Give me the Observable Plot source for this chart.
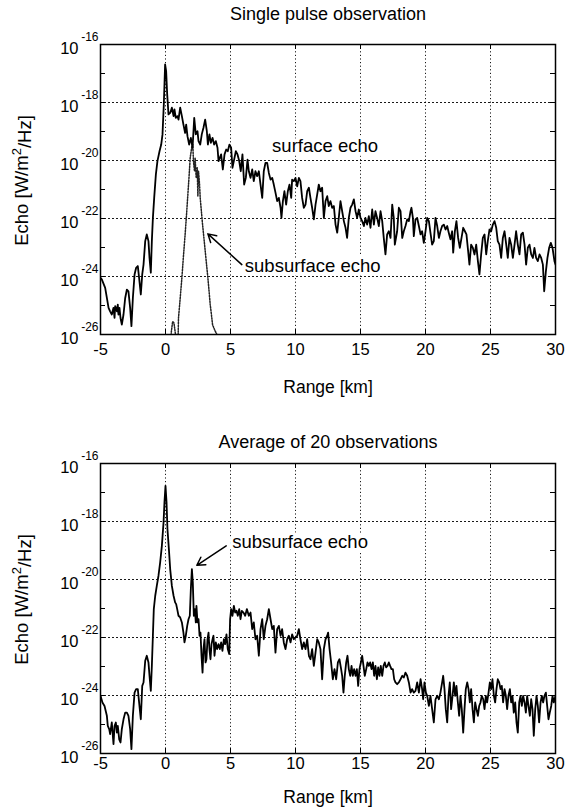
<!DOCTYPE html>
<html>
<head>
<meta charset="utf-8">
<script src="https://cdn.jsdelivr.net/npm/d3@7"></script>
<script src="https://cdn.jsdelivr.net/npm/@observablehq/plot@0.6"></script>
<style>
  html, body { margin: 0; padding: 0; background: #fff; }
  #chart svg { display: block; background: #fff; }
</style>
</head>
<body>
<div id="chart"></div>
<script>
// ---------- axis / tick values ----------
const xTicks = [-5, 0, 5, 10, 15, 20, 25, 30];
const xGrid = [0, 5, 10, 15, 20, 25];
const yLabelExps = [-16, -18, -20, -22, -24, -26];
const yGridExps = [-18, -20, -22, -24];
const yDecadeExps = [-17, -18, -19, -20, -21, -22, -23, -24, -25];

// ---------- texts ----------
const topTitle = "Single pulse observation";
const bottomTitle = "Average of 20 observations";
const xLabel = "Range [km]";
const yLabel = "Echo [W/m²/Hz]";

// ---------- annotations (range km, log10 echo) ----------
const topLabels = [
  {text: "surface echo", x: 8.2, e: -19.5},
  {text: "subsurface echo", x: 6.1, e: -23.64}
];
const topArrow = [{x1: 5.87, e1: -23.59, x2: 3.26, e2: -22.53}];
const bottomLabels = [
  {text: "subsurface echo", x: 5.13, e: -18.70}
];
const bottomArrow = [{x1: 4.67, e1: -18.84, x2: 2.41, e2: -19.51}];

// ---------- series: [range km, log10(echo W/m^2/Hz)] ----------
const singleSurface = [
[-5.00,-24.05],[-4.90,-24.10],[-4.64,-24.39],[-4.51,-24.74],[-4.38,-25.08],[-4.26,-25.20],[-4.13,-25.31],[-4.00,-25.08],[-3.92,-25.43],[-3.87,-25.02],[-3.74,-25.20],[-3.67,-24.97],[-3.62,-25.31],[-3.54,-25.08],[-3.46,-25.43],[-3.36,-25.66],[-3.23,-25.31],[-3.10,-24.74],[-2.97,-24.45],[-2.85,-24.51],[-2.72,-25.08],[-2.62,-25.71],[-2.51,-24.74],[-2.38,-23.93],[-2.26,-23.70],[-2.13,-23.64],[-2.03,-24.05],[-1.90,-24.62],[-1.79,-23.93],[-1.69,-23.59],[-1.56,-22.78],[-1.44,-22.55],[-1.31,-22.78],[-1.23,-23.36],[-1.13,-23.87],[-1.05,-22.78],[-0.97,-21.98],[-0.87,-21.29],[-0.74,-20.48],[-0.62,-20.02],[-0.46,-19.68],[-0.33,-19.45],[-0.23,-19.10],[-0.13,-18.07],[-0.03,-16.69],[0.05,-16.92],[0.13,-17.72],[0.23,-18.41],[0.36,-18.36],[0.49,-18.18],[0.62,-18.47],[0.69,-18.24],[0.79,-18.53],[0.92,-18.47],[1.00,-18.59],[1.13,-18.18],[1.26,-18.47],[1.38,-18.76],[1.51,-19.05],[1.59,-18.76],[1.69,-19.16],[1.82,-19.45],[1.95,-19.22],[2.08,-19.56],[2.21,-18.53],[2.33,-19.10],[2.46,-18.99],[2.54,-19.33],[2.67,-19.45],[2.79,-19.10],[2.92,-18.87],[3.05,-18.59],[3.18,-18.99],[3.26,-19.45],[3.38,-19.10],[3.49,-19.39],[3.62,-19.22],[3.74,-19.45],[3.87,-19.33],[4.00,-19.56],[4.08,-20.02],[4.18,-19.91],[4.28,-19.79],[4.41,-20.31],[4.54,-19.79],[4.67,-19.62],[4.79,-19.68],[4.92,-19.45],[5.05,-19.56],[5.15,-20.25],[5.28,-19.97],[5.41,-19.68],[5.54,-19.79],[5.67,-20.02],[5.79,-20.37],[5.92,-19.79],[6.05,-20.83],[6.18,-20.60],[6.31,-19.97],
[6.41,-20.37],[6.54,-20.60],[6.67,-20.31],[6.79,-20.71],[6.92,-20.37],[7.05,-20.54],[7.18,-20.37],[7.31,-20.83],[7.44,-21.29],[7.56,-20.37],[7.69,-20.08],[7.82,-20.08],[7.95,-20.43],[8.08,-20.66],[8.21,-20.60],[8.33,-20.83],[8.46,-21.11],[8.59,-21.40],[8.72,-21.29],[8.85,-21.63],[8.92,-21.98],[9.03,-21.40],[9.15,-21.06],[9.28,-21.52],[9.41,-21.06],[9.54,-20.83],[9.67,-21.29],[9.74,-20.66],[9.87,-20.71],[10.00,-20.60],[10.13,-20.89],[10.26,-20.60],[10.38,-20.71],[10.51,-21.29],[10.64,-21.63],[10.77,-21.52],[10.90,-21.06],[11.03,-20.94],[11.15,-21.29],[11.28,-21.63],[11.41,-22.03],[11.54,-21.52],[11.67,-21.17],[11.79,-20.83],[11.92,-21.06],[12.05,-20.94],[12.18,-21.98],[12.31,-21.40],[12.44,-21.23],[12.56,-21.57],[12.69,-21.40],[12.82,-21.63],[12.95,-21.57],[13.08,-22.21],[13.21,-22.49],[13.33,-21.98],[13.46,-21.40],[13.59,-21.75],[13.72,-22.09],[13.85,-22.32],[13.97,-22.67],[14.10,-21.98],[14.23,-21.63],[14.36,-21.52],[14.49,-21.34],[14.62,-21.75],[14.74,-21.98],[14.87,-21.69],[15.00,-21.98],[15.13,-22.09],[15.26,-22.26],[15.38,-21.98],[15.51,-22.21],[15.64,-21.92],[15.77,-22.32],[15.90,-21.69],[16.03,-22.21],[16.15,-21.75],[16.28,-21.98],[16.41,-22.26],[16.54,-21.75],[16.67,-22.09],[16.79,-22.67],[16.92,-23.24],[17.05,-22.55],[17.18,-22.44],[17.31,-22.67],[17.44,-21.52],[17.56,-21.98],[17.64,-22.90],[17.82,-22.44],[17.95,-21.63],[18.08,-21.75],[18.21,-22.67],
[18.33,-22.44],[18.46,-22.26],[18.59,-22.03],[18.72,-22.09],[18.85,-21.75],[18.92,-21.63],[19.03,-21.98],[19.10,-22.61],[19.23,-22.03],[19.36,-21.98],[19.49,-22.26],[19.62,-22.55],[19.74,-22.44],[19.87,-22.84],[20.00,-22.44],[20.13,-21.98],[20.26,-22.09],[20.38,-22.49],[20.51,-22.90],[20.64,-22.78],[20.77,-21.98],[20.90,-22.26],[21.03,-22.67],[21.15,-22.44],[21.28,-22.26],[21.41,-22.21],[21.54,-22.38],[21.67,-22.26],[21.79,-22.49],[21.92,-22.72],[22.05,-22.44],[22.13,-23.18],[22.26,-22.44],[22.38,-22.09],[22.51,-22.67],[22.64,-23.01],[22.77,-22.67],[22.90,-22.32],[23.03,-22.44],[23.15,-22.55],[23.28,-23.13],[23.38,-23.59],[23.51,-22.90],[23.64,-23.01],[23.77,-23.24],[23.90,-22.90],[24.03,-23.47],[24.15,-23.93],[24.28,-23.24],[24.41,-22.67],[24.54,-22.55],[24.67,-23.24],[24.79,-22.78],[24.92,-22.38],[25.05,-22.44],[25.18,-22.21],[25.31,-22.09],[25.44,-22.32],[25.56,-22.78],[25.69,-22.90],[25.82,-23.36],[25.95,-22.67],[26.08,-22.44],[26.21,-22.90],[26.33,-23.36],[26.46,-22.67],[26.59,-22.90],[26.72,-23.36],[26.85,-22.90],[26.97,-22.44],[27.10,-22.90],[27.23,-23.24],[27.36,-22.55],[27.49,-22.49],[27.62,-22.90],[27.74,-23.59],[27.87,-23.01],[28.00,-22.90],[28.13,-23.24],[28.26,-23.36],[28.38,-23.01],[28.51,-23.36],[28.64,-23.47],[28.77,-23.24],[28.90,-23.36],[29.03,-23.59],[29.13,-24.51],[29.26,-23.82],[29.38,-23.36],[29.51,-23.01],[29.64,-22.84],[29.77,-23.01],[29.92,-23.47],[30.00,-23.59]
];

const singleSubsurface = [
[0.35,-26.5],[0.45,-25.9],[0.55,-25.55],[0.65,-25.6],[0.8,-26.1],[0.9,-26.5],[0.97,-26.1],[1.00,-25.43],[1.13,-24.75],[1.26,-24.05],[1.38,-23.3],[1.51,-22.55],[1.62,-21.85],[1.72,-21.17],[1.82,-20.5],[1.90,-19.91],[2.03,-19.51],[2.10,-19.45],[2.15,-20.02],[2.23,-20.37],[2.28,-19.91],[2.36,-20.60],[2.44,-20.25],[2.49,-21.23],[2.54,-20.37],[2.62,-20.83],[2.67,-21.29],[2.76,-21.75],[2.85,-22.2],[2.95,-22.65],[3.05,-23.1],[3.16,-23.6],[3.26,-24.05],[3.35,-24.5],[3.44,-24.97],[3.53,-25.3],[3.62,-25.66],[3.77,-25.83],[3.95,-26.0],[4.05,-26.4]
];

const averagedEcho = [
[-5.00,-24.01],[-4.85,-24.24],[-4.69,-24.36],[-4.51,-24.70],[-4.44,-25.05],[-4.33,-25.16],[-4.26,-25.33],[-4.13,-24.93],[-4.00,-25.68],[-3.92,-25.05],[-3.82,-24.93],[-3.74,-25.28],[-3.67,-25.05],[-3.56,-25.51],[-3.46,-25.62],[-3.36,-25.16],[-3.23,-24.82],[-3.10,-24.59],[-2.97,-24.59],[-2.85,-24.70],[-2.72,-25.16],[-2.62,-25.85],[-2.51,-24.70],[-2.38,-23.90],[-2.26,-23.78],[-2.13,-23.78],[-2.03,-24.24],[-1.90,-24.82],[-1.79,-23.67],[-1.69,-23.55],[-1.56,-22.80],[-1.44,-22.63],[-1.31,-22.86],[-1.23,-23.32],[-1.13,-23.84],[-1.05,-22.98],[-0.97,-21.94],[-0.90,-21.02],[-0.79,-20.56],[-0.67,-20.22],[-0.54,-19.87],[-0.41,-19.41],[-0.28,-18.84],[-0.15,-18.03],[-0.08,-17.34],[0.00,-16.77],[0.08,-17.34],[0.15,-18.26],[0.26,-18.95],[0.36,-19.64],[0.49,-20.22],[0.62,-20.56],[0.74,-20.79],[0.82,-20.85],[0.90,-21.02],[1.00,-21.25],[1.13,-21.31],[1.26,-21.48],[1.38,-21.83],[1.46,-22.17],[1.56,-21.94],[1.67,-21.60],[1.77,-21.37],[1.87,-21.25],[1.95,-20.33],[2.03,-19.64],[2.10,-20.10],[2.18,-21.25],[2.26,-21.02],[2.33,-21.48],[2.38,-20.91],[2.46,-21.48],[2.54,-21.37],[2.62,-21.94],[2.69,-21.83],[2.77,-22.63],[2.85,-23.21],[2.92,-22.40],[3.00,-22.06],[3.08,-22.86],[3.15,-22.75],[3.23,-22.06],[3.31,-21.83],[3.38,-22.40],[3.46,-22.75],[3.54,-22.23],[3.62,-22.06],[3.69,-21.94],[3.77,-22.63],[3.87,-22.17],[3.97,-22.40],[4.08,-22.23],[4.18,-22.40],[4.28,-22.17],[4.38,-22.46],[4.49,-22.06],[4.59,-22.23],[4.69,-21.89],[4.79,-22.40],[4.90,-22.57],[4.97,-21.37],[5.05,-21.02],[5.15,-21.25],[5.26,-20.91],[5.36,-21.14],[5.46,-21.08],[5.56,-21.25],[5.67,-21.02],[5.77,-21.37],[5.87,-21.08],[6.00,-21.14],[6.13,-21.25],[6.26,-21.02],[6.41,-21.25],[6.54,-21.14],[6.67,-21.71],[6.79,-21.48],[6.92,-22.06],[7.05,-21.94],[7.18,-22.63],[7.31,-21.71],[7.44,-21.37],[7.56,-22.06],[7.69,-21.60],[7.82,-21.37],[7.95,-21.02],[8.08,-21.37],[8.21,-21.71],[8.33,-21.60],[8.46,-22.52],[8.59,-21.71],[8.72,-21.60],[8.85,-21.94],[8.97,-21.71],[9.10,-22.17],[9.23,-22.40],[9.36,-22.06],[9.49,-21.94],[9.62,-22.17],[9.74,-21.89],[9.87,-22.06],[10.00,-22.00],[10.13,-21.94],[10.26,-21.71],[10.38,-22.06],[10.51,-22.40],[10.64,-22.17],[10.77,-22.40],[10.90,-22.06],[11.03,-22.63],[11.15,-22.75],[11.28,-22.40],[11.41,-22.98],[11.54,-22.52],[11.67,-22.06],[11.79,-22.17],[11.92,-22.40],[12.05,-23.44],[12.18,-22.40],[12.31,-22.06],[12.44,-21.94],[12.51,-21.83],[12.62,-22.40],[12.74,-22.86],[12.87,-23.44],[13.00,-23.09],[13.13,-23.44],[13.26,-22.86],[13.38,-22.75],[13.51,-23.09],[13.59,-23.32],[13.69,-23.90],[13.79,-23.32],[13.90,-22.86],[14.00,-22.63],[14.10,-23.09],[14.21,-23.32],[14.31,-22.98],[14.41,-23.32],[14.51,-23.09],[14.62,-23.32],[14.72,-23.09],[14.82,-23.67],[14.92,-23.09],[15.03,-22.86],[15.13,-22.63],[15.23,-22.98],[15.33,-23.32],[15.44,-23.09],[15.54,-22.86],[15.64,-22.98],[15.74,-22.86],[15.85,-23.09],[15.95,-22.86],[16.05,-23.32],[16.15,-22.98],[16.26,-23.44],[16.36,-23.03],[16.46,-23.32],[16.56,-22.98],[16.67,-23.32],[16.77,-22.98],[16.87,-22.86],[16.97,-23.03],[17.08,-22.98],[17.18,-22.86],[17.28,-22.98],[17.38,-23.09],[17.49,-23.09],[17.59,-23.44],[17.69,-23.55],[17.82,-23.61],[17.95,-23.55],[18.08,-23.44],[18.21,-23.32],[18.33,-23.38],[18.46,-23.21],[18.59,-23.32],[18.72,-23.55],[18.85,-23.90],[18.97,-23.78],[19.10,-23.90],[19.23,-23.84],[19.36,-23.55],[19.49,-23.90],[19.62,-23.44],[19.74,-23.78],[19.82,-24.13],[19.92,-23.55],[20.03,-23.90],[20.13,-24.01],[20.26,-24.36],[20.38,-24.01],[20.51,-24.47],[20.64,-24.93],[20.77,-24.13],[20.90,-24.01],[21.03,-24.13],[21.15,-23.90],[21.28,-23.55],[21.36,-23.32],[21.46,-23.78],[21.56,-24.47],[21.67,-24.93],[21.77,-24.01],[21.87,-23.55],[21.97,-24.47],[22.08,-24.01],[22.18,-23.55],[22.28,-24.01],[22.38,-23.67],[22.49,-24.24],[22.59,-24.70],[22.69,-24.01],[22.79,-24.47],[22.90,-25.28],[23.00,-24.47],[23.10,-23.78],[23.21,-23.55],[23.31,-23.78],[23.41,-24.24],[23.51,-23.78],[23.62,-24.47],[23.72,-24.93],[23.82,-24.24],[23.92,-24.47],[24.03,-24.70],[24.13,-24.36],[24.23,-24.24],[24.33,-24.01],[24.44,-24.13],[24.54,-24.47],[24.64,-24.01],[24.74,-24.24],[24.85,-23.90],[24.95,-23.55],[25.05,-23.78],[25.15,-23.44],[25.26,-24.01],[25.36,-24.24],[25.46,-23.78],[25.56,-23.44],[25.67,-23.55],[25.77,-23.78],[25.87,-23.67],[25.97,-24.24],[26.08,-23.78],[26.18,-24.01],[26.28,-24.47],[26.38,-24.01],[26.49,-23.78],[26.59,-24.24],[26.69,-24.01],[26.79,-24.59],[26.90,-24.24],[27.00,-24.93],[27.10,-25.28],[27.21,-24.24],[27.31,-24.01],[27.41,-24.36],[27.51,-24.01],[27.62,-24.24],[27.72,-24.59],[27.82,-24.01],[27.92,-24.36],[28.03,-24.70],[28.13,-24.13],[28.23,-24.47],[28.33,-25.39],[28.44,-24.47],[28.54,-24.01],[28.64,-24.36],[28.74,-24.93],[28.85,-24.24],[28.95,-24.01],[29.05,-24.24],[29.15,-24.01],[29.26,-23.90],[29.36,-24.36],[29.46,-24.82],[29.56,-24.59],[29.67,-24.36],[29.77,-24.01],[29.87,-24.24],[30.00,-24.01]
];

// ---------- rendering ----------
const FONT = "'Liberation Sans', Arial, Helvetica, sans-serif";
const toPts = arr => arr.map(([x, e]) => ({x, y: Math.pow(10, e)}));
const P = e => Math.pow(10, e);

function panel({title, series, dotted, labels, arrows, marginTop, marginBottom, titleDy, tickDy, xLabelDy}) {
  const W = 571, H = 404, mL = 100, mR = 16;
  const plotW = W - mL - mR, plotH = H - marginTop - marginBottom;
  const marks = [
    // grid
    Plot.ruleX(xGrid, {x: d => d, stroke: "#000", strokeWidth: 0.9, strokeDasharray: "1.2,2.4"}),
    Plot.ruleY(yGridExps, {y: d => P(d), stroke: "#000", strokeWidth: 0.9, strokeDasharray: "2,2"}),
    // inward ticks
    Plot.tickX(xTicks, {x: d => d, insetTop: plotH - 5, stroke: "#000", strokeWidth: 1}),
    Plot.tickX(xTicks, {x: d => d, insetBottom: plotH - 5, stroke: "#000", strokeWidth: 1}),
    Plot.tickY(yDecadeExps, {y: d => P(d), insetRight: plotW - 5, stroke: "#000", strokeWidth: 1}),
    Plot.tickY(yDecadeExps, {y: d => P(d), insetLeft: plotW - 5, stroke: "#000", strokeWidth: 1}),
    // annotation labels with white halo to mask grid
    Plot.text(labels, {x: "x", y: d => P(d.e), text: "text", textAnchor: "start", fontSize: 18.5,
      fill: "#000", stroke: "#fff", strokeWidth: 7, fontFamily: FONT})
  ];
  if (dotted) {
    marks.push(Plot.line(toPts(dotted), {x: "x", y: "y", stroke: "#222", strokeWidth: 1.5,
      strokeDasharray: "1.4,1.4", clip: true}));
  }
  marks.push(
    Plot.line(toPts(series), {x: "x", y: "y", stroke: "#000", strokeWidth: 1.8, clip: true, strokeLinejoin: "round"}),
    Plot.arrow(arrows, {x1: "x1", y1: d => P(d.e1), x2: "x2", y2: d => P(d.e2), stroke: "#000",
      strokeWidth: 1.5, headLength: 9, bend: 0}),
    Plot.frame({stroke: "#000", strokeWidth: 1.5}),
    // x tick labels
    Plot.text(xTicks, {x: d => d, text: d => String(d), frameAnchor: "bottom", dy: tickDy,
      lineAnchor: "middle", fontSize: 16.5, fontFamily: FONT}),
    // y tick labels 10^e
    Plot.text(yLabelExps, {y: d => P(d), text: () => "10", frameAnchor: "left", textAnchor: "end",
      dx: -22, dy: 4, lineAnchor: "middle", fontSize: 16.5, fontFamily: FONT}),
    Plot.text(yLabelExps, {y: d => P(d), text: d => String(d), frameAnchor: "left", textAnchor: "end",
      dx: -2, dy: -7, lineAnchor: "middle", fontSize: 12, fontFamily: FONT}),
    // title
    Plot.text([title], {text: d => d, frameAnchor: "top", dy: titleDy, lineAnchor: "middle",
      fontSize: 18, fontFamily: FONT}),
    // x label
    Plot.text([xLabel], {text: d => d, frameAnchor: "bottom", dy: xLabelDy, lineAnchor: "middle",
      fontSize: 17.5, fontFamily: FONT}),
    // y label
    Plot.text([yLabel], {text: d => d, frameAnchor: "left", textAnchor: "middle", dx: -78, dy: -9,
      rotate: -90, lineAnchor: "middle", fontSize: 18.5, fontFamily: FONT})
  );
  const svg = Plot.plot({
    width: W, height: H,
    marginLeft: mL, marginRight: mR, marginTop, marginBottom,
    style: {fontFamily: FONT, fontSize: "16px", color: "#000", background: "#fff", overflow: "visible"},
    x: {domain: [-5, 30], axis: null},
    y: {type: "log", domain: [1e-26, 1e-16], axis: null},
    marks
  });
  // render the "²" of the y label as a raised, smaller superscript (MATLAB TeX style)
  d3.select(svg).selectAll("text").filter(function () { return this.textContent === yLabel; })
    .each(function () {
      const t = d3.select(this);
      const [a, b] = yLabel.split("²");
      t.text(null);
      t.append("tspan").text(a);
      t.append("tspan").attr("font-size", 13).attr("dy", "-0.55em").text("2");
      t.append("tspan").attr("dy", "0.55em").text(b);
    });
  return svg;
}

const root = document.getElementById("chart");
root.appendChild(panel({
  title: topTitle, series: singleSurface, dotted: singleSubsurface,
  labels: topLabels, arrows: topArrow,
  marginTop: 44, marginBottom: 70, titleDy: -30, tickDy: 15, xLabelDy: 53
}));
root.appendChild(panel({
  title: bottomTitle, series: averagedEcho, dotted: null,
  labels: bottomLabels, arrows: bottomArrow,
  marginTop: 59, marginBottom: 55, titleDy: -21, tickDy: 10, xLabelDy: 44
}));
</script>
</body>
</html>
